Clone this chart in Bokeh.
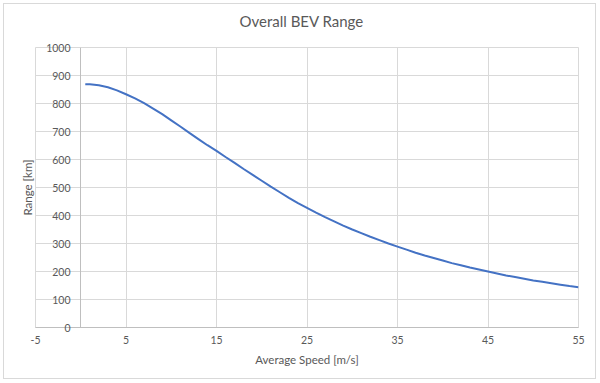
from bokeh.plotting import figure
from bokeh.models import Range1d, FixedTicker, Title, LinearAxis
from bokeh.embed import file_html
from bokeh.resources import INLINE

# ---- data ----
speed = [0.5, 1, 2, 3, 4, 5, 6, 7, 8, 9, 10, 11, 12, 13, 14, 15, 16, 17, 18, 19, 20,
         21, 22, 23, 24, 25, 26, 27, 28, 29, 30, 31, 32, 33, 34, 35, 36, 37, 38, 39, 40,
         41, 42, 43, 44, 45, 46, 47, 48, 49, 50, 51, 52, 53, 54, 55]
range_km = [869, 868.5, 865, 858, 847, 833, 818, 801, 782, 762, 740, 718, 695, 673, 651, 631,
            609, 588, 566, 545, 524, 503, 483, 463, 444, 427, 410, 394, 379, 364, 350,
            337, 324, 312, 300, 289, 278, 267, 257, 248, 239, 230, 222, 214, 207, 200,
            193, 186, 180, 174, 168, 163, 158, 153, 148, 144]
x_ticks = [-5, 5, 15, 25, 35, 45, 55]
y_ticks = [0, 100, 200, 300, 400, 500, 600, 700, 800, 900, 1000]
title_text = "Overall BEV Range"

TEXT = "#595959"
GRID = "#d9d9d9"
AXIS = "#bfbfbf"
FONT = "Lato"

p = figure(width=593, height=376, output_backend="svg", toolbar_location=None, title=None,
           x_range=Range1d(-5, 55), y_range=Range1d(0, 1000),
           min_border_left=31, min_border_right=19, min_border_top=43, min_border_bottom=53,
           x_axis_location="below", y_axis_location="left",
           styles={"border": "1px solid #d9d9d9", "margin": "3px"})

p.outline_line_color = GRID
p.background_fill_color = "white"
p.border_fill_color = "white"

# spacer between frame and title, then the title itself (outermost)
p.add_layout(Title(text=" ", text_font=FONT, text_font_size="10px", standoff=4), "above")
p.add_layout(Title(text=title_text, align="left", offset=204, vertical_align="bottom",
                   standoff=0, text_font=FONT, text_font_size="15px",
                   text_font_style="normal", text_color=TEXT), "above")

# x axis
xa = p.xaxis[0]
xa.ticker = FixedTicker(ticks=x_ticks)
xa.major_label_overrides = {-5: "-5"}
xa.axis_label = "Average Speed [m/s]"
xa.axis_label_text_font = FONT
xa.axis_label_text_font_size = "11.5px"
xa.axis_label_text_font_style = "normal"
xa.axis_label_text_color = TEXT
xa.axis_label_standoff = 6
xa.major_label_text_font = FONT
xa.major_label_text_font_size = "10.5px"
xa.major_label_text_color = TEXT
xa.major_label_standoff = 8
xa.major_tick_out = 0
xa.major_tick_in = 0
xa.minor_tick_out = 0
xa.minor_tick_in = 0
xa.axis_line_color = AXIS

# vertical axis line crossing at x = 0 (no labels)
ya = p.yaxis[0]
ya.ticker = FixedTicker(ticks=[])
ya.fixed_location = 0
ya.major_tick_out = 0
ya.major_tick_in = 0
ya.minor_tick_out = 0
ya.minor_tick_in = 0
ya.axis_line_color = AXIS

# value labels, drawn just left of the x = 0 line
lab = LinearAxis(ticker=FixedTicker(ticks=y_ticks), major_label_standoff=-35,
                 major_label_text_font=FONT, major_label_text_font_size="10.5px",
                 major_label_text_color=TEXT, axis_line_color=None,
                 major_tick_out=0, major_tick_in=0, minor_tick_out=0, minor_tick_in=0)
p.add_layout(lab, "left")

# y axis title on the left panel
p.add_layout(Title(text="Range [km]", align="center", text_font=FONT, text_font_size="11.5px",
                   text_font_style="normal", text_color=TEXT, standoff=3), "left")

# grids
p.xgrid.ticker = FixedTicker(ticks=x_ticks)
p.ygrid.ticker = FixedTicker(ticks=y_ticks)
p.xgrid.grid_line_color = GRID
p.ygrid.grid_line_color = GRID

p.line(speed, range_km, line_color="#4472C4", line_width=2)

open("out.html", "w").write(file_html(p, INLINE))
